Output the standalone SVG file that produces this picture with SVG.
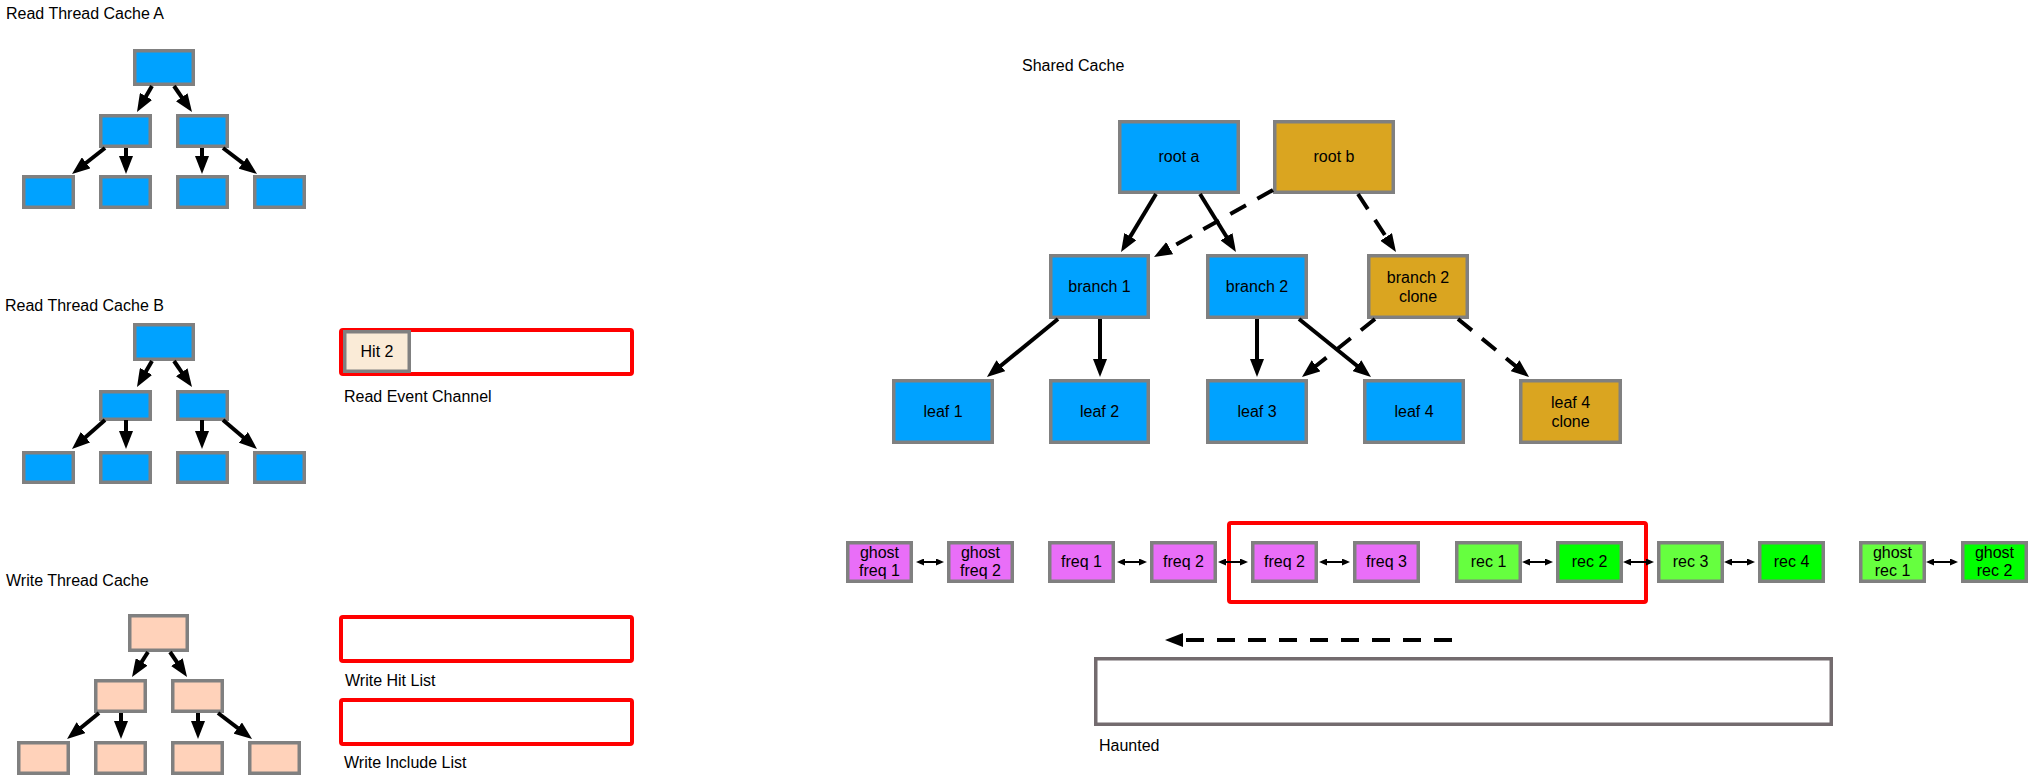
<svg xmlns="http://www.w3.org/2000/svg" width="2029" height="779" viewBox="0 0 2029 779">
<style>
text{font-family:"Liberation Sans",Arial,Helvetica,sans-serif;font-size:16px;fill:#000}
.c{text-anchor:middle}
.n{stroke:#808080;stroke-width:3.5}
.blue{fill:#00A2FF}
.gold{fill:#DAA520}
.peach{fill:#FFD2BA}
.mag{fill:#E96EF8}
.lg{fill:#66FF3F}
.g{fill:#00FF00}
.red{fill:none;stroke:#FF0000;stroke-width:4}
.e{fill:none;stroke:#000;stroke-width:4;marker-end:url(#ah)}
.d{stroke-dasharray:18 13}
.s{fill:none;stroke:#000;stroke-width:2;marker-start:url(#sa);marker-end:url(#sa)}
</style>
<defs>
<marker id="ah" viewBox="0 0 18 14" markerWidth="18" markerHeight="14" markerUnits="userSpaceOnUse" refX="8" refY="7" orient="auto"><path d="M0,0 L18,7 L0,14 z" fill="#000"/></marker>
<marker id="sa" viewBox="0 0 8 7" markerWidth="8" markerHeight="7" markerUnits="userSpaceOnUse" refX="3" refY="3.5" orient="auto-start-reverse"><path d="M0,0 L8,3.5 L0,7 z" fill="#000"/></marker>
</defs>
<rect width="2029" height="779" fill="#fff"/>

<g id="labels">
<text x="6" y="19">Read Thread Cache A</text>
<text x="5" y="311">Read Thread Cache B</text>
<text x="6" y="586">Write Thread Cache</text>
<text x="344" y="402">Read Event Channel</text>
<text x="345" y="686">Write Hit List</text>
<text x="344" y="768">Write Include List</text>
<text x="1022" y="71">Shared Cache</text>
<text x="1099" y="751">Haunted</text>
</g>

<g id="treeA">
<rect class="n blue" x="134.75" y="50.75" width="58.5" height="33.5"/>
<rect class="n blue" x="100.75" y="115.75" width="49.5" height="30.5"/>
<rect class="n blue" x="177.75" y="115.75" width="49.5" height="30.5"/>
<rect class="n blue" x="23.75" y="176.75" width="49.5" height="30.5"/>
<rect class="n blue" x="100.75" y="176.75" width="49.5" height="30.5"/>
<rect class="n blue" x="177.75" y="176.75" width="49.5" height="30.5"/>
<rect class="n blue" x="254.75" y="176.75" width="49.5" height="30.5"/>
</g>
<g id="treeB">
<rect class="n blue" x="134.75" y="324.75" width="58.5" height="34.5"/>
<rect class="n blue" x="100.75" y="391.75" width="49.5" height="27.5"/>
<rect class="n blue" x="177.75" y="391.75" width="49.5" height="27.5"/>
<rect class="n blue" x="23.75" y="452.75" width="49.5" height="29.5"/>
<rect class="n blue" x="100.75" y="452.75" width="49.5" height="29.5"/>
<rect class="n blue" x="177.75" y="452.75" width="49.5" height="29.5"/>
<rect class="n blue" x="254.75" y="452.75" width="49.5" height="29.5"/>
</g>
<g id="treeC">
<rect class="n peach" x="129.75" y="615.75" width="57.5" height="34.5"/>
<rect class="n peach" x="95.75" y="680.75" width="49.5" height="30.5"/>
<rect class="n peach" x="172.75" y="680.75" width="49.5" height="30.5"/>
<rect class="n peach" x="18.75" y="742.75" width="49.5" height="30.5"/>
<rect class="n peach" x="95.75" y="742.75" width="49.5" height="30.5"/>
<rect class="n peach" x="172.75" y="742.75" width="49.5" height="30.5"/>
<rect class="n peach" x="249.75" y="742.75" width="49.5" height="30.5"/>
</g>

<g id="readEventChannel">
<rect class="red" x="341" y="330" width="291" height="44" rx="2"/>
<rect class="n" fill="#FAEBD7" x="344.75" y="331.75" width="64.5" height="39.5"/>
<text class="c" x="377" y="357">Hit 2</text>
</g>
<g id="writeHitList"><rect class="red" x="341" y="617" width="291" height="44" rx="2"/></g>
<g id="writeIncludeList"><rect class="red" x="341" y="700" width="291" height="44" rx="2"/></g>

<g id="rootA"><rect class="n blue" x="1119.75" y="121.75" width="118.5" height="70.5"/><text class="c" x="1179" y="162">root a</text></g>
<g id="rootB"><rect class="n gold" x="1274.75" y="121.75" width="118.5" height="70.5"/><text class="c" x="1334" y="162">root b</text></g>
<g id="branch1"><rect class="n blue" x="1050.75" y="255.75" width="97.5" height="61.5"/><text class="c" x="1099.5" y="292">branch 1</text></g>
<g id="branch2"><rect class="n blue" x="1207.75" y="255.75" width="98.5" height="61.5"/><text class="c" x="1257" y="292">branch 2</text></g>
<g id="branch2clone"><rect class="n gold" x="1368.75" y="255.75" width="98.5" height="61.5"/><text class="c" x="1418" y="283">branch 2</text><text class="c" x="1418" y="302">clone</text></g>
<g id="leaf1"><rect class="n blue" x="893.75" y="380.75" width="98.5" height="61.5"/><text class="c" x="943" y="417">leaf 1</text></g>
<g id="leaf2"><rect class="n blue" x="1050.75" y="380.75" width="97.5" height="61.5"/><text class="c" x="1099.5" y="417">leaf 2</text></g>
<g id="leaf3"><rect class="n blue" x="1207.75" y="380.75" width="98.5" height="61.5"/><text class="c" x="1257" y="417">leaf 3</text></g>
<g id="leaf4"><rect class="n blue" x="1364.75" y="380.75" width="98.5" height="61.5"/><text class="c" x="1414" y="417">leaf 4</text></g>
<g id="leaf4clone"><rect class="n gold" x="1520.75" y="380.75" width="99.5" height="61.5"/><text class="c" x="1570.5" y="408">leaf 4</text><text class="c" x="1570.5" y="427">clone</text></g>

<g id="listFrame"><rect class="red" x="1229" y="523" width="417" height="79" rx="2"/></g>
<g id="ghostFreq1"><rect class="n mag" x="847.75" y="542.75" width="63.5" height="38.5"/><text class="c" x="879.5" y="558">ghost</text><text class="c" x="879.5" y="576">freq 1</text></g>
<g id="ghostFreq2"><rect class="n mag" x="948.75" y="542.75" width="63.5" height="38.5"/><text class="c" x="980.5" y="558">ghost</text><text class="c" x="980.5" y="576">freq 2</text></g>
<g id="freq1"><rect class="n mag" x="1049.75" y="542.75" width="63.5" height="38.5"/><text class="c" x="1081.5" y="567">freq 1</text></g>
<g id="freq2"><rect class="n mag" x="1151.75" y="542.75" width="63.5" height="38.5"/><text class="c" x="1183.5" y="567">freq 2</text></g>
<g id="freq2b"><rect class="n mag" x="1252.75" y="542.75" width="63.5" height="38.5"/><text class="c" x="1284.5" y="567">freq 2</text></g>
<g id="freq3"><rect class="n mag" x="1354.75" y="542.75" width="63.5" height="38.5"/><text class="c" x="1386.5" y="567">freq 3</text></g>
<g id="rec1"><rect class="n lg" x="1456.75" y="542.75" width="63.5" height="38.5"/><text class="c" x="1488.5" y="567">rec 1</text></g>
<g id="rec2"><rect class="n g" x="1557.75" y="542.75" width="63.5" height="38.5"/><text class="c" x="1589.5" y="567">rec 2</text></g>
<g id="rec3"><rect class="n lg" x="1658.75" y="542.75" width="63.5" height="38.5"/><text class="c" x="1690.5" y="567">rec 3</text></g>
<g id="rec4"><rect class="n g" x="1759.75" y="542.75" width="63.5" height="38.5"/><text class="c" x="1791.5" y="567">rec 4</text></g>
<g id="ghostRec1"><rect class="n lg" x="1860.75" y="542.75" width="63.5" height="38.5"/><text class="c" x="1892.5" y="558">ghost</text><text class="c" x="1892.5" y="576">rec 1</text></g>
<g id="ghostRec2"><rect class="n g" x="1962.75" y="542.75" width="63.5" height="38.5"/><text class="c" x="1994.5" y="558">ghost</text><text class="c" x="1994.5" y="576">rec 2</text></g>

<g id="haunted"><rect fill="none" stroke="#736B6E" stroke-width="3.5" x="1095.75" y="658.75" width="735.5" height="65.5"/></g>

<g id="connectors">
<path class="e" d="M152,86 L142,103.3"/>
<path class="e" d="M174,86 L186.3,103.8"/>
<path class="e" d="M105,148 L79.9,167.8"/>
<path class="e" d="M126,148 L126,164"/>
<path class="e" d="M202,148 L202,164"/>
<path class="e" d="M223,148 L249.1,167.9"/>

<path class="e" d="M152,361 L142,378.3"/>
<path class="e" d="M174,361 L186.3,378.8"/>
<path class="e" d="M105,420 L79.5,442.4"/>
<path class="e" d="M126,420 L126,439"/>
<path class="e" d="M202,420 L202,439"/>
<path class="e" d="M223,420 L249.4,442.5"/>

<path class="e" d="M148,652 L137.4,668.6"/>
<path class="e" d="M170,652 L181.4,668.7"/>
<path class="e" d="M99,713 L74.8,732.7"/>
<path class="e" d="M121,713 L121,729"/>
<path class="e" d="M198,713 L198,729"/>
<path class="e" d="M218,713 L244.1,732.9"/>

<path class="e" d="M1156,194 L1126.2,243.4"/>
<path class="e" d="M1200,194 L1230.7,243.5"/>
<path class="e d" d="M1273,190 L1162.7,252.1"/>
<path class="e d" d="M1358,194 L1390.5,243.6"/>
<path class="e" d="M1058,319 L994.7,370.7"/>
<path class="e" d="M1100,319 L1100,367"/>
<path class="e" d="M1257,319 L1257,367"/>
<path class="e" d="M1299,319 L1363.2,370.7"/>
<path class="e d" d="M1375,319 L1309.8,370.8"/>
<path class="e d" d="M1458,319 L1521.3,370.7"/>

<path class="e d" d="M1452,640 L1175,640"/>

<path class="s" d="M921,562 L939,562"/>
<path class="s" d="M1122,562 L1142,562"/>
<path class="s" d="M1223,562 L1243,562"/>
<path class="s" d="M1324,562 L1345,562"/>
<path class="s" d="M1527,562 L1548,562"/>
<path class="s" d="M1628,562 L1649,562"/>
<path class="s" d="M1729,562 L1750,562"/>
<path class="s" d="M1931,562 L1953,562"/>
</g>
</svg>
